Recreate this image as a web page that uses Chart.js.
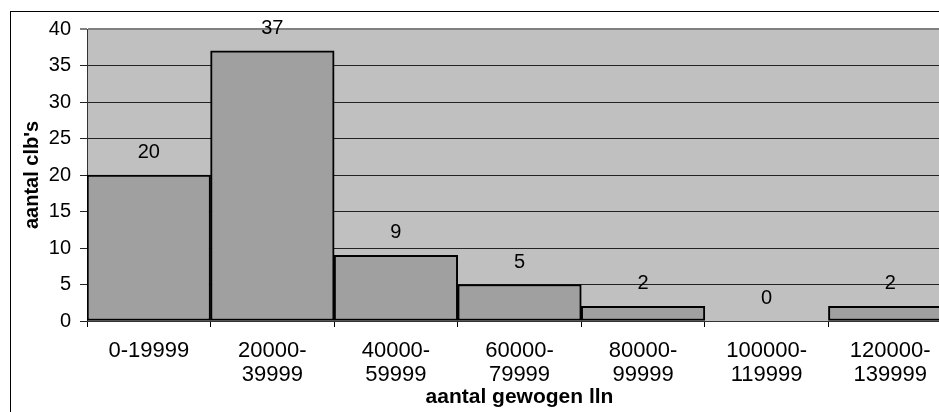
<!DOCTYPE html>
<html>
<head>
<meta charset="utf-8">
<title>aantal clb's</title>
<script src="https://cdn.jsdelivr.net/npm/chart.js@4/dist/chart.umd.min.js"></script>
<style>
    html, body { margin: 0; padding: 0; background: #fff; overflow: hidden; width: 939px; height: 412px; }
    #chart { position: absolute; left: 0; top: 0; }
</style>
</head>
<body>
<canvas id="chart" width="960" height="430"></canvas>
<script>
// Chart data
const tickLabels = [
    ['0-19999'],
    ['20000-', '39999'],
    ['40000-', '59999'],
    ['60000-', '79999'],
    ['80000-', '99999'],
    ['100000-', '119999'],
    ['120000-', '139999']
];
const clbCounts = [20, 37, 9, 5, 2, 0, 2];
const yTicks = [0, 5, 10, 15, 20, 25, 30, 35, 40];

const FONT = '"Liberation Sans", Arial, sans-serif';

// Grey plot background and outer frame
const backdrop = {
    id: 'backdrop',
    beforeDraw(chart) {
        const { ctx, chartArea } = chart;
        ctx.save();
        ctx.fillStyle = '#c0c0c0';
        ctx.fillRect(chartArea.left, chartArea.top,
            chartArea.right - chartArea.left, chartArea.bottom - chartArea.top);
        ctx.strokeStyle = '#000';
        ctx.lineWidth = 1;
        ctx.strokeRect(10.5, 11.5, 1200, 1200);
        ctx.restore();
    }
};

// Value labels above each bar
const valueLabels = {
    id: 'valueLabels',
    afterDatasetsDraw(chart) {
        const { ctx } = chart;
        const meta = chart.getDatasetMeta(0);
        ctx.save();
        ctx.fillStyle = '#000';
        ctx.font = '20px ' + FONT;
        ctx.textAlign = 'center';
        ctx.textBaseline = 'alphabetic';
        meta.data.forEach((bar, i) => {
            ctx.fillText(String(clbCounts[i]), bar.x, bar.y - 17);
        });
        ctx.restore();
    }
};

new Chart(document.getElementById('chart'), {
    type: 'bar',
    data: {
        labels: tickLabels,
        datasets: [{
            data: clbCounts,
            backgroundColor: '#a0a0a0',
            borderColor: '#000',
            borderWidth: 2,
            borderSkipped: false,
            barPercentage: 1,
            categoryPercentage: 1
        }]
    },
    options: {
        responsive: false,
        animation: false,
        devicePixelRatio: 1,
        layout: { padding: { top: 29, right: 8, bottom: 0, left: 0 } },
        plugins: {
            legend: { display: false },
            tooltip: { enabled: false }
        },
        scales: {
            x: {
                offset: true,
                afterFit(scale) { scale.height = 109; },
                grid: {
                    offset: true,
                    drawOnChartArea: false,
                    drawTicks: true,
                    tickLength: 6,
                    color: '#000'
                },
                border: { color: '#333', width: 1 },
                ticks: {
                    color: '#000',
                    padding: 12,
                    maxRotation: 0,
                    autoSkip: false,
                    font: { family: FONT, size: 22, lineHeight: 1.09 }
                },
                title: {
                    display: true,
                    text: 'aantal gewogen lln',
                    color: '#000',
                    padding: { top: 0, bottom: 20 },
                    font: { family: FONT, size: 21, weight: 'bold', lineHeight: 1.2 }
                }
            },
            y: {
                min: 0,
                max: 40,
                afterFit(scale) { scale.width = 87; },
                afterBuildTicks(scale) { scale.ticks = yTicks.map(v => ({ value: v })); },
                grid: {
                    drawTicks: true,
                    tickLength: 7,
                    color: ctx => ctx.tick && ctx.tick.value === 40 ? '#808080' : '#222',
                    lineWidth: ctx => ctx.tick && ctx.tick.value === 40 ? 2 : 1
                },
                border: { color: '#333', width: 1 },
                ticks: {
                    color: '#000',
                    padding: 9,
                    font: { family: FONT, size: 20 }
                },
                title: {
                    display: true,
                    text: "aantal clb's",
                    color: '#000',
                    padding: { top: 20, bottom: 0 },
                    font: { family: FONT, size: 20, weight: 'bold', lineHeight: 1.2 }
                }
            }
        }
    },
    plugins: [backdrop, valueLabels]
});
</script>
</body>
</html>
